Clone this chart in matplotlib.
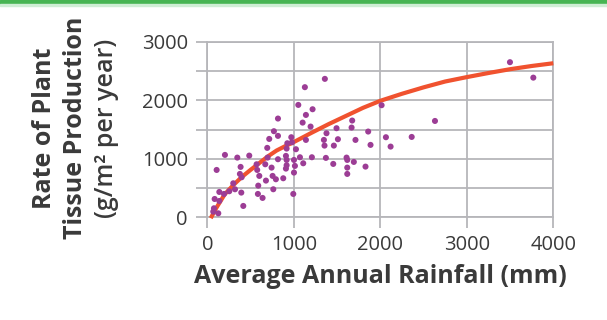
import matplotlib
matplotlib.use("Agg")
import matplotlib.pyplot as plt
from matplotlib.patches import Rectangle

plt.rcParams['font.family'] = ['Open Sans', 'DejaVu Sans']

# measured sites: rainfall (mm) vs plant tissue production (g/m2 per year)
rainfall = [108, 204, 347, 485, 385, 377, 397, 300, 320, 254, 193, 139, 85, 139, 77, 69, 127,
            393, 416, 570, 577, 601, 589, 585, 639, 678, 670, 697, 693, 716, 770, 817, 817,
            817, 743, 755, 793, 763, 878, 917, 909, 917, 925, 917, 909, 971, 979, 1002, 1013,
            1002, 994, 1025, 1052, 1071, 1102, 1109, 1128, 1140, 1140, 1194, 1217, 1209, 1359,
            1378, 1348, 1355, 1371, 1456, 1463, 1494, 1510, 1610, 1618, 1618, 1618, 1668, 1675,
            1713, 1694, 1829, 1860, 1887, 2015, 2065, 2119, 2363, 2632, 3499, 3769]
production = [809, 1066, 1020, 1054, 861, 741, 684, 581, 479, 445, 399, 433, 313, 279, 154, 97, 68,
              422, 194, 906, 809, 707, 541, 399, 331, 627, 906, 1020, 1186, 1339, 1471, 1391, 1687,
              992, 849, 707, 650, 479, 667, 889, 1049, 1174, 1265, 980, 832, 1368, 1282, 980, 878,
              764, 399, 1163, 1920, 1026, 1618, 923, 2223, 1322, 1749, 1550, 1846, 1026, 2365,
              1436, 1322, 1225, 1015, 912, 1225, 1522, 1334, 1020, 980, 849, 741, 1533, 1653,
              1322, 946, 866, 1465, 1237, 1915, 1368, 1208, 1373, 1646, 2650, 2386]

# fitted trend line
trend_x = [40, 100, 200, 300, 400, 500, 600, 700, 800, 900, 1000, 1200, 1400, 1600, 1800,
           2000, 2250, 2500, 2750, 3000, 3250, 3500, 3750, 4000]
trend_y = [-15, 150, 390, 550, 690, 810, 925, 1040, 1140, 1215, 1285, 1440, 1590, 1730, 1870,
           1990, 2110, 2220, 2320, 2395, 2465, 2530, 2585, 2632]

x_ticks = [0, 1000, 2000, 3000, 4000]
y_ticks = [0, 1000, 2000, 3000]
y_minor = [500, 1500, 2500]

grid_col = '#b6b6ba'
text_col = '#3a3a3a'

fig = plt.figure(figsize=(6.07, 3.2), dpi=100)
ax = fig.add_axes([207.3 / 607, 1 - 217.3 / 320, 346 / 607, 175.6 / 320])

# green banner at the top
fig.patches.append(Rectangle((0, 1 - 4 / 320), 1, 4 / 320, transform=fig.transFigure,
                             color='#47b553', zorder=0))
fig.patches.append(Rectangle((0, 1 - 6 / 320), 1, 2 / 320, transform=fig.transFigure,
                             color='#cfeed5', zorder=0))

ax.plot(trend_x, trend_y, color='#f0522f', lw=3.0, solid_capstyle='butt', clip_on=False, zorder=3)
ax.scatter(rainfall, production, s=19, color='#9c3d95', edgecolors='none', zorder=4)

ax.set_xlim(0, 4000)
ax.set_ylim(0, 3000)
ax.set_xticks(x_ticks)
ax.set_yticks(y_ticks)
ax.set_yticks(y_minor, minor=True)
ax.set_xticklabels([str(v) for v in x_ticks])
ax.set_yticklabels([str(v) for v in y_ticks])

ax.grid(True, which='both', color=grid_col, lw=1.3)
ax.set_axisbelow(True)
for s in ax.spines.values():
    s.set_color(grid_col)
    s.set_linewidth(1.3)

ax.tick_params(axis='both', which='both', length=8, width=1.3, color=grid_col,
               labelsize=14.5, labelcolor=text_col)
ax.tick_params(axis='y', pad=6)
ax.tick_params(axis='x', pad=5)

ax.set_xlabel('Average Annual Rainfall (mm)', fontsize=18, fontweight='bold',
              color=text_col, labelpad=6)

fig.text(45 / 607, 0.6, 'Rate of Plant', rotation=90, ha='center', va='center',
         fontsize=18, fontweight='bold', color=text_col)
fig.text(75 / 607, 0.6, 'Tissue Production', rotation=90, ha='center', va='center',
         fontsize=18, fontweight='bold', color=text_col)
fig.text(106 / 607, 0.6, '(g/m² per year)', rotation=90, ha='center', va='center',
         fontsize=18, fontweight='semibold', color=text_col)

fig.savefig('out.png', dpi=100)
